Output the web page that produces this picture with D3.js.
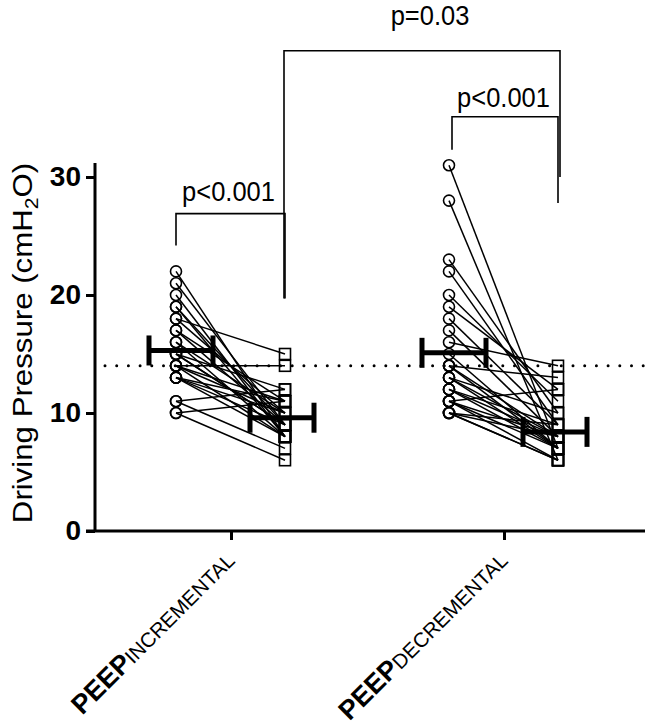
<!DOCTYPE html>
<html><head><meta charset="utf-8">
<script src="https://cdn.jsdelivr.net/npm/d3@7"></script>
<style>body{margin:0;background:#fff}svg{display:block}text{font-family:"Liberation Sans",Arial,sans-serif}</style>
</head><body>
<script>
// Categories
const categories = ["INCREMENTAL", "DECREMENTAL"];
// Paired values (before -> after) per patient
const incrementalPre  = [22,21,20,19,19,18,18,17,17,16,16,15,15,15,14,14,14,14,13,13,13,13,11,11,10,10];
const incrementalPost = [ 8, 9, 8, 9, 8,15,10, 9,11, 8,10,12, 9, 9,14,10, 8,11,11, 9, 8,10,12, 7,11, 6];
const decrementalPre  = [31,28,23,22,20,19,18,17,16,15,14,14,14,13,13,13,12,12,12,10,11,11,11,11,10,10,10];
const decrementalPost = [ 7, 6,10, 9,11,12, 9, 8,14, 7,13, 8, 7,10, 8, 7, 9, 7, 8, 6,12, 8, 6, 7, 9, 6, 8];
// Group means [pre, post]
const incrementalMeans = [15.3, 9.6];
const decrementalMeans = [15.1, 8.4];
const yTicks = [0, 10, 20, 30];
const refLine = 14;
const pLabels = ["p<0.001", "p<0.001", "p=0.03"];

const W = 645, H = 725;
const svg = d3.select("body").append("svg").attr("width", W).attr("height", H);

const y = d3.scaleLinear().domain([0, 30]).range([531, 177]);
const x = d3.scalePoint().domain(categories).range([231, 504]);
const preOff = -55, postOff = 54, meanPreOff = -50, meanPostOff = 51;
const axisX = 95;

// axes
svg.append("line").attr("x1", axisX).attr("x2", axisX).attr("y1", 163).attr("y2", y(0))
  .attr("stroke", "#000").attr("stroke-width", 3);
svg.append("line").attr("x1", 86).attr("x2", W).attr("y1", y(0)).attr("y2", y(0))
  .attr("stroke", "#000").attr("stroke-width", 3);

const yAxis = svg.append("g").attr("transform", `translate(${axisX},0)`)
  .call(d3.axisLeft(y).tickValues(yTicks).tickSize(9).tickPadding(5).tickFormat(d3.format("d")));
yAxis.select(".domain").remove();
yAxis.selectAll(".tick line").attr("stroke", "#000").attr("stroke-width", 3);
yAxis.selectAll(".tick text").attr("font-size", 28).attr("font-weight", "bold").attr("fill", "#000")
  .attr("font-family", '"Liberation Sans",Arial,sans-serif');

const xAxis = svg.append("g").attr("transform", `translate(0,${y(0)})`)
  .call(d3.axisBottom(x).tickSize(9).tickFormat(""));
xAxis.select(".domain").remove();
xAxis.selectAll(".tick line").attr("stroke", "#000").attr("stroke-width", 3);

// x labels
categories.forEach(c => {
  const t = svg.append("text")
    .attr("transform", `translate(${x(c) + 5},${y(0) + 31}) rotate(-45)`)
    .attr("text-anchor", "end").attr("fill", "#000");
  t.append("tspan").attr("font-weight", "bold").attr("font-size", 27).text("PEEP");
  t.append("tspan").attr("font-size", 20.5).text(c);
});

// y label
svg.append("text")
  .attr("transform", `translate(32,343) scale(1,1.115) rotate(-90)`)
  .attr("text-anchor", "middle").attr("font-size", 28).attr("fill", "#000")
  .call(t => {
    t.append("tspan").text("Driving Pressure (cmH");
    t.append("tspan").attr("font-size", 19).attr("dy", 6).text("2");
    t.append("tspan").attr("dy", -6).text("O)");
  });

// reference dotted line
svg.append("line").attr("x1", 105).attr("x2", W).attr("y1", y(refLine)).attr("y2", y(refLine))
  .attr("stroke", "#000").attr("stroke-width", 3).attr("stroke-linecap", "round")
  .attr("stroke-dasharray", "0,11.7");

const groups = [
  {cat: categories[0], pre: incrementalPre, post: incrementalPost, means: incrementalMeans},
  {cat: categories[1], pre: decrementalPre, post: decrementalPost, means: decrementalMeans}
];

groups.forEach(g => {
  const cx = x(g.cat);
  const pairs = g.pre.map((v, i) => [v, g.post[i]]);
  svg.append("g").selectAll("line").data(pairs).join("line")
    .attr("x1", cx + preOff).attr("x2", cx + postOff)
    .attr("y1", d => y(d[0])).attr("y2", d => y(d[1]))
    .attr("stroke", "#000").attr("stroke-width", 1.5);
  svg.append("g").selectAll("circle").data(g.pre).join("circle")
    .attr("cx", cx + preOff).attr("cy", d => y(d)).attr("r", 5.5)
    .attr("fill", "none").attr("stroke", "#000").attr("stroke-width", 1.6);
  svg.append("g").selectAll("rect").data(g.post).join("rect")
    .attr("x", cx + postOff - 5.5).attr("y", d => y(d) - 5.5).attr("width", 11).attr("height", 11)
    .attr("fill", "none").attr("stroke", "#000").attr("stroke-width", 1.6);
  // mean markers
  [[g.means[0], meanPreOff], [g.means[1], meanPostOff]].forEach(([m, off]) => {
    const mx = cx + off, my = y(m), hw = 32, ch = 15;
    const mg = svg.append("g").attr("stroke", "#000").attr("stroke-width", 5);
    mg.append("line").attr("x1", mx - hw).attr("x2", mx + hw).attr("y1", my).attr("y2", my);
    mg.append("line").attr("x1", mx - hw).attr("x2", mx - hw).attr("y1", my - ch).attr("y2", my + ch);
    mg.append("line").attr("x1", mx + hw).attr("x2", mx + hw).attr("y1", my - ch).attr("y2", my + ch);
  });
});

// significance brackets
const xi = x(categories[0]), xd = x(categories[1]);
const br = svg.append("g").attr("fill", "none").attr("stroke", "#000").attr("stroke-width", 1.6);
br.append("path").attr("d", `M${xi + preOff},${y(24.2)}V${y(26.9)}H${xi + postOff}V${y(19.7)}`);
br.append("path").attr("d", `M${xi + postOff - 1},${y(19.7)}V${y(40.7)}H${xd + postOff + 2}V${y(30)}`);
br.append("path").attr("d", `M${xd + preOff + 3},${y(32.3)}V${y(35.1)}H${xd + postOff}V${y(27.8)}`);

const pt = [
  {t: pLabels[0], x: (xi + preOff + xi + postOff) / 2 - 2, y: 201},
  {t: pLabels[1], x: (xd + preOff + xd + postOff) / 2, y: 107},
  {t: pLabels[2], x: 430, y: 25}
];
pt.forEach(p => {
  svg.append("text").attr("transform", `translate(${p.x},${p.y}) scale(1,1.1)`)
    .attr("text-anchor", "middle").attr("font-size", 25.5).attr("fill", "#000").text(p.t);
});
</script>
</body></html>
